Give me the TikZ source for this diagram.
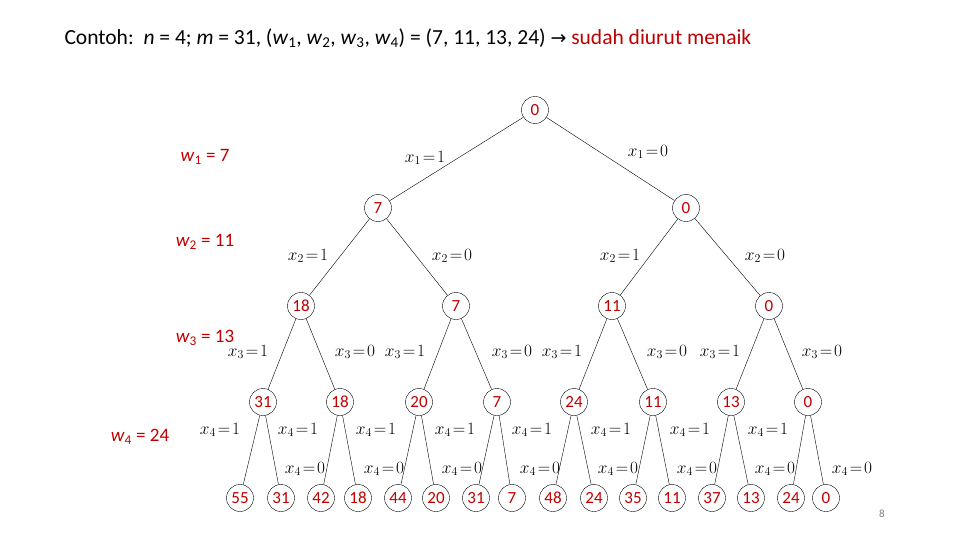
\documentclass[tikz,border=0pt]{standalone}
\usepackage{fontspec}
\setmainfont{Carlito}
\newfontfamily\tmsfont{Liberation Serif}
\newfontfamily\arrowfont{DejaVu Sans}
\definecolor{dred}{RGB}{192,0,0}
\begin{document}
\begin{tikzpicture}[x=1pt,y=-1pt,
  nd/.style={circle,draw,thin,minimum size=27pt,inner sep=0pt,text=dred,font=\fontsize{17}{17}\selectfont},
  el/.style={font=\fontsize{18}{18}\selectfont},
  wl/.style={font=\fontsize{19}{19}\selectfont,text=dred}]
\useasboundingbox (0,0) rectangle (960,540);
\node[anchor=west,font=\fontsize{21.5}{21.5}\selectfont] (title) at (61,38) {Contoh:\ \ \textit{n} = 4; \textit{m} = 31, (\textit{w}\textsubscript{1}, \textit{w}\textsubscript{2}, \textit{w}\textsubscript{3}, \textit{w}\textsubscript{4}) = (7, 11, 13, 24) {\arrowfont\fontsize{19}{19}\selectfont→} \textcolor{dred}{sudah diurut menaik}};
\node[wl] (wa) at (205,157) {\textit{w}\textsubscript{1} = 7};
\node[wl] (wb) at (205,242) {\textit{w}\textsubscript{2} = 11};
\node[wl] (wc) at (205,338) {\textit{w}\textsubscript{3} = 13};
\node[wl] (wd) at (140,437) {\textit{w}\textsubscript{4} = 24};
\node[text=gray,font=\fontsize{11}{11}\selectfont] (pg) at (882,514) {8};
% nodes
\node[nd] (r) at (535,110) {0};
\node[nd] (a) at (378,208) {7};
\node[nd] (b) at (686,208) {0};
\node[nd] (aa) at (301,306) {18};
\node[nd] (ab) at (456,306) {7};
\node[nd] (ba) at (612,306) {11};
\node[nd] (bb) at (769,306) {0};
\foreach \n/\x/\t in {c1/263/31,c2/340/18,c3/419/20,c4/497/7,c5/574/24,c6/653/11,c7/731/13,c8/808/0}
  \node[nd] (\n) at (\x,402) {\t};
\foreach \n/\x/\t in {l1/240/55,l2/281/31,l3/321/42,l4/358/18,l5/398/44,l6/436/20,l7/476/31,l8/512/7,l9/553/48,l10/594/24,l11/633/35,l12/672/11,l13/712/37,l14/751/13,l15/791/24,l16/826/0}
  \node[nd] (\n) at (\x,498) {\t};
% edges
\foreach \p/\c in {r/a,r/b,a/aa,a/ab,b/ba,b/bb,aa/c1,aa/c2,ab/c3,ab/c4,ba/c5,ba/c6,bb/c7,bb/c8,
  c1/l1,c1/l2,c2/l3,c2/l4,c3/l5,c3/l6,c4/l7,c4/l8,c5/l9,c5/l10,c6/l11,c6/l12,c7/l13,c7/l14,c8/l15,c8/l16}
  \draw[thin] (\p) -- (\c);
% labels
\node[el] (e1) at (425,158) {$x_1\!=\!1$};
\node[el] (e2) at (648,152) {$x_1\!=\!0$};
\foreach \x/\v [count=\i] in {308/1,452/0,620/1,765/0}
  \node[el] (f\i) at (\x,256) {$x_2\!=\!\v$};
\foreach \x/\v [count=\i] in {248/1,355/0,405/1,512/0,562/1,667/0,720/1,822/0}
  \node[el] (g\i) at (\x,352) {$x_3\!=\!\v$};
\foreach \x [count=\i] in {220,298,376,455,532,611,690,768}
  \node[el] (h\i) at (\x,430) {$x_4\!=\!1$};
\foreach \x [count=\i] in {305,384,462,540,618,697,775,852}
  \node[el] (k\i) at (\x,469) {$x_4\!=\!0$};
\end{tikzpicture}
\end{document}
